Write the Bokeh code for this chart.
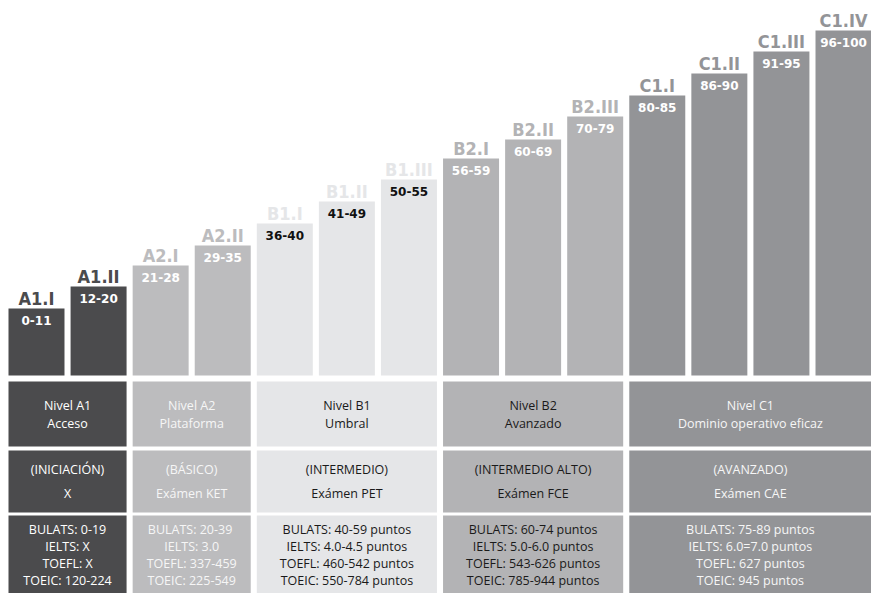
from bokeh.plotting import figure
from bokeh.models import Range1d, ColumnDataSource
from bokeh.core.properties import value
from bokeh.embed import file_html
from bokeh.resources import INLINE

# ---------------- data ----------------
levels = ["A1.I", "A1.II", "A2.I", "A2.II", "B1.I", "B1.II", "B1.III",
          "B2.I", "B2.II", "B2.III", "C1.I", "C1.II", "C1.III", "C1.IV"]
score_ranges = ["0-11", "12-20", "21-28", "29-35", "36-40", "41-49", "50-55",
                "56-59", "60-69", "70-79", "80-85", "86-90", "91-95", "96-100"]
bar_heights = [67, 89, 110, 130, 152, 174, 196, 217, 236, 259, 280, 302, 324, 345]
bar_groups = ["A1", "A1", "A2", "A2", "B1", "B1", "B1",
              "B2", "B2", "B2", "C1", "C1", "C1", "C1"]

group_names = ["A1", "A2", "B1", "B2", "C1"]
row_nivel = ["Nivel A1\nAcceso", "Nivel A2\nPlataforma", "Nivel B1\nUmbral",
             "Nivel B2\nAvanzado", "Nivel C1\nDominio operativo eficaz"]
row_examen = ["(INICIACIÓN)\nX", "(BÁSICO)\nExámen KET", "(INTERMEDIO)\nExámen PET",
              "(INTERMEDIO ALTO)\nExámen FCE", "(AVANZADO)\nExámen CAE"]
row_scores = [
    "BULATS: 0-19\nIELTS: X\nTOEFL: X\nTOEIC: 120-224",
    "BULATS:  20-39\nIELTS: 3.0\nTOEFL: 337-459\nTOEIC: 225-549",
    "BULATS: 40-59 puntos\nIELTS: 4.0-4.5 puntos\nTOEFL: 460-542 puntos\nTOEIC: 550-784 puntos",
    "BULATS: 60-74 puntos\nIELTS: 5.0-6.0 puntos\nTOEFL: 543-626 puntos\nTOEIC: 785-944 puntos",
    "BULATS: 75-89 puntos\nIELTS: 6.0=7.0 puntos\nTOEFL: 627 puntos\nTOEIC: 945 puntos",
]

# ---------------- styles ----------------
group_fill = {"A1": "#4b4b4d", "A2": "#bcbcbe", "B1": "#e5e6e8", "B2": "#b3b3b5", "C1": "#939497"}
range_txt = {"A1": "#ffffff", "A2": "#ffffff", "B1": "#111111", "B2": "#ffffff", "C1": "#ffffff"}
table_txt = {"A1": "#ffffff", "A2": "#f6f6f6", "B1": "#1a1a1a", "B2": "#1a1a1a", "C1": "#f6f6f6"}

BAR_W = 0.902
PX_PER_UNIT = 62.08
W, H = 871, 593
TABLE_FONT = value("Open Sans")
LABEL_FONT = value("'Liberation Sans Narrow', 'DejaVu Sans Condensed', 'DejaVu Sans', sans-serif")

p = figure(width=W, height=H, output_backend="svg", toolbar_location=None, tools="",
           x_range=Range1d(-BAR_W / 2 - 8 / PX_PER_UNIT, len(levels) - 1 + BAR_W / 2),
           y_range=Range1d(-218, 375), min_border=0)
p.axis.visible = False
p.grid.visible = False
p.outline_line_color = None
p.background_fill_color = "white"
p.border_fill_color = "white"

xs = list(range(len(levels)))
src = ColumnDataSource(dict(
    x=xs, top=bar_heights, level=levels, rng=score_ranges,
    fill=[group_fill[g] for g in bar_groups],
    rcol=[range_txt[g] for g in bar_groups],
    lab_y=[h + 10 for h in bar_heights],
    rng_y=[h - 12 for h in bar_heights],
))

p.vbar(x="x", top="top", bottom=0, width=BAR_W, fill_color="fill", line_color=None, source=src)
p.text(x="x", y="lab_y", text="level", text_color="fill", text_align="center",
       text_baseline="middle", text_font=LABEL_FONT,
       text_font_style="bold", text_font_size="18px", source=src)
p.text(x="x", y="rng_y", text="rng", text_color="rcol", text_align="center",
       text_baseline="middle", text_font=value("DejaVu Sans"),
       text_font_style="bold", text_font_size="12px", source=src)

# table
rows = [
    (row_nivel, -6, -71, 18),
    (row_examen, -75, -137, 24),
    (row_scores, -140, -218, 17),
]
lefts, rights = [], []
for g in group_names:
    idx = [i for i, bg in enumerate(bar_groups) if bg == g]
    lefts.append(idx[0] - BAR_W / 2)
    rights.append(idx[-1] + BAR_W / 2 + (0.2 if g == "C1" else 0))

for texts, top, bottom, spacing in rows:
    p.quad(left=lefts, right=rights, top=[top] * 5, bottom=[bottom] * 5,
           fill_color=[group_fill[g] for g in group_names], line_color=None)
    tx, ty, tt, tc = [], [], [], []
    center = (top + bottom) / 2
    for gi, g in enumerate(group_names):
        lines = texts[gi].split("\n")
        n = len(lines)
        for k, ln in enumerate(lines):
            tx.append((lefts[gi] + min(rights[gi], len(levels) - 1 + BAR_W / 2)) / 2)
            ty.append(center - (k - (n - 1) / 2) * spacing)
            tt.append(ln)
            tc.append(table_txt[g])
    p.text(x=tx, y=ty, text=tt, text_color=tc, text_align="center",
           text_baseline="middle", text_font=TABLE_FONT, text_font_size="12.5px")

open("out.html", "w").write(file_html(p, INLINE))
